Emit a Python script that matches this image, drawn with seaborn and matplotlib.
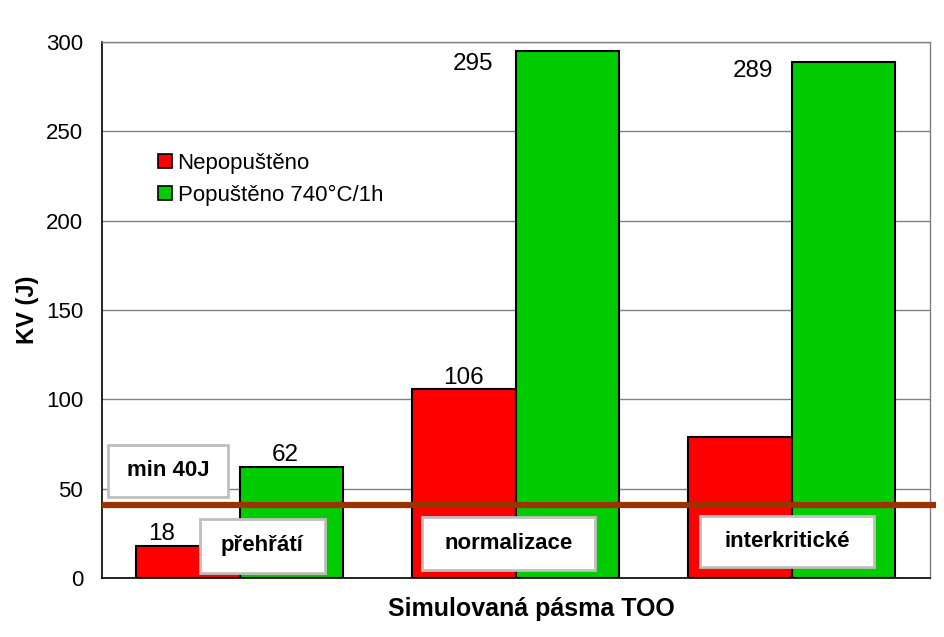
import matplotlib
matplotlib.use("Agg")
import matplotlib.pyplot as plt
from matplotlib.patches import Rectangle
from matplotlib.lines import Line2D
from matplotlib.ticker import MultipleLocator
import seaborn as sns
import pandas as pd

categories = ["přehřátí", "normalizace", "interkritické"]
series = ["Nepopuštěno", "Popuštěno 740°C/1h"]
nepopusteno = [18, 106, 79]
popusteno = [62, 295, 289]
limit_value = 41
limit_label = "min 40J"
x_label = "Simulovaná pásma TOO"
y_label = "KV (J)"
y_ticks = [0, 50, 100, 150, 200, 250, 300]

# which bars get a value label (series index, category index)
shown_labels = [(0, 0), (1, 0), (0, 1), (1, 1), (1, 2)]

sns.set_style("white")
plt.rcParams["font.family"] = ["Liberation Sans", "DejaVu Sans"]
plt.rcParams["text.color"] = "black"
plt.rcParams["axes.labelcolor"] = "black"
plt.rcParams["ytick.color"] = "black"

colors = ["#FF0000", "#00CC00"]

df = pd.DataFrame({
    "pasmo": categories * 2,
    "serie": [series[0]] * 3 + [series[1]] * 3,
    "KV": nepopusteno + popusteno,
})

fig = plt.figure(figsize=(9.45, 6.37), dpi=100)
ax = fig.add_axes([102 / 945, 59 / 637, 828 / 945, 536 / 637])

sns.barplot(data=df, x="pasmo", y="KV", hue="serie", order=categories,
            hue_order=series, palette=colors, width=0.75, gap=0,
            edgecolor="black", linewidth=1.5, saturation=1, ax=ax,
            legend=False, zorder=2)

ax.set_xlim(-0.5, 2.5)
ax.set_ylim(0, 300)
ax.set_yticks(y_ticks)
ax.yaxis.set_minor_locator(MultipleLocator(10))
ax.tick_params(axis="y", which="major", direction="out", length=4.5,
               width=1, labelsize=16, colors="black", pad=9)
ax.tick_params(axis="y", which="minor", direction="in", length=5, width=1)
ax.tick_params(axis="x", length=0, labelbottom=False)
ax.grid(axis="y", color="#808080", linewidth=1, zorder=0)
ax.set_axisbelow(True)
for s in ["top", "right"]:
    ax.spines[s].set_color("#808080")
    ax.spines[s].set_linewidth(1)
for s in ["left", "bottom"]:
    ax.spines[s].set_color("black")
    ax.spines[s].set_linewidth(1.2)

ax.set_xlabel(x_label, fontsize=18, fontweight="bold", color="black")
ax.xaxis.label.set_position((0.518, 0))
ax.xaxis.labelpad = 14
ax.set_ylabel(y_label, fontsize=17, fontweight="bold", labelpad=5,
              color="black")

# limit line
ax.plot([-0.5, 2.52], [limit_value, limit_value], color="#993300",
        linewidth=4.5, solid_capstyle="butt", clip_on=False, zorder=4)

# value labels
px = 1 / 276.0
py = 300 / 536.0
offsets = {
    (0, 0): (-27, 6),
    (1, 0): (-6, 6),
    (0, 1): (-1, 5),
    (1, 1): (-95, -19),
    (1, 2): (-91, -15),
}
for (si, ci) in shown_labels:
    bar = ax.containers[si][ci]
    xc = bar.get_x() + bar.get_width() / 2
    val = bar.get_height()
    dx, dy = offsets[(si, ci)]
    ax.text(xc + dx * px, val + dy * py, f"{val:.0f}", ha="center",
            va="baseline", fontsize=17.5, color="black", zorder=6)

# text boxes
boxes = [
    (limit_label, -0.478, 45.5, 0.435, 29.0),
    (categories[0], -0.145, 3.0, 0.453, 30.0),
    (categories[1], 0.659, 4.5, 0.627, 29.5),
    (categories[2], 1.667, 6.2, 0.630, 28.5),
]
for txt, x0, y0, w, h in boxes:
    ax.add_patch(Rectangle((x0, y0), w, h, facecolor="white",
                           edgecolor="#BFBFBF", linewidth=2, zorder=5))
    ax.text(x0 + w / 2, y0 + h / 2, txt, ha="center", va="center",
            fontsize=16, fontweight="bold", color="black", zorder=6)

handles = [Line2D([], [], marker="s", linestyle="none", markersize=10,
                  markerfacecolor=c, markeredgecolor="black",
                  markeredgewidth=1.2) for c in colors]
leg = ax.legend(handles, series, loc="upper left",
                bbox_to_anchor=(0.055, 0.81), frameon=False, fontsize=16,
                handlelength=0.8, handletextpad=0.15, labelspacing=0.5,
                borderaxespad=0)
for t in leg.get_texts():
    t.set_color("black")

fig.savefig("out.png", dpi=100)
